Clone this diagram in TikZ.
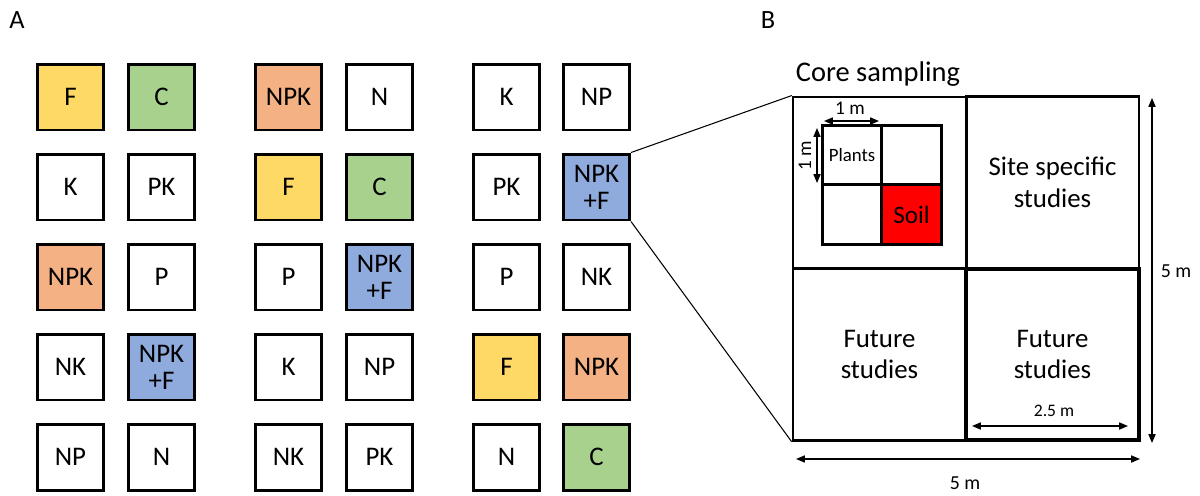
\documentclass[tikz,border=0pt]{standalone}
\usepackage{fontspec}
\setmainfont{Carlito}
\usetikzlibrary{arrows.meta, positioning}
\definecolor{fcolor}{RGB}{255, 217, 102}
\definecolor{ccolor}{RGB}{169, 209, 142}
\definecolor{npkcolor}{RGB}{244, 177, 131}
\definecolor{npkfcolor}{RGB}{143, 170, 220}
\definecolor{soilcolor}{RGB}{255, 0, 0}
\tikzset{
    plot/.style={draw, line width=1.7pt, minimum size=1.32cm, inner sep=0pt, align=center, font=\fontsize{15.3}{15.5}\selectfont},
    cell/.style={draw, line width=1.7pt, minimum width=3.46cm, minimum height=3.43cm, inner sep=0pt, align=center, font=\fontsize{15.3}{18}\selectfont},
    sub/.style={draw, line width=1.5pt, minimum size=1.19cm, inner sep=0pt},
    dim/.style={{Triangle[length=5pt, width=4pt]}-{Triangle[length=5pt, width=4pt]}, line width=0.8pt},
    dimlabel/.style={inner sep=0pt, font=\fontsize{10}{12}\selectfont},
    panel/.style={inner sep=0pt, font=\fontsize{15}{18}\selectfont}
}
\begin{document}
\begin{tikzpicture}[x=0.02cm, y=-0.02cm]
        \useasboundingbox (0, 0) rectangle (1200, 495);
        % Panel labels
        \node[panel] (labA) at (17, 20) {A};
        \node[panel] (labB) at (768, 20) {B};
        
        % Block 1
        \node[plot, fill=fcolor] (s11) at (70.5, 97) {F};
        \node[plot, fill=ccolor] (s21) at (161.5, 97) {C};
        \node[plot] (s12) at (70.5, 187) {K};
        \node[plot] (s22) at (161.5, 187) {PK};
        \node[plot, fill=npkcolor] (s13) at (70.5, 277) {NPK};
        \node[plot] (s23) at (161.5, 277) {P};
        \node[plot] (s14) at (70.5, 367) {NK};
        \node[plot, fill=npkfcolor] (s24) at (161.5, 367) {NPK\\+F};
        \node[plot] (s15) at (70.5, 457) {NP};
        \node[plot] (s25) at (161.5, 457) {N};
        
        % Block 2
        \node[plot, fill=npkcolor] (s31) at (288.5, 97) {NPK};
        \node[plot] (s41) at (379.5, 97) {N};
        \node[plot, fill=fcolor] (s32) at (288.5, 187) {F};
        \node[plot, fill=ccolor] (s42) at (379.5, 187) {C};
        \node[plot] (s33) at (288.5, 277) {P};
        \node[plot, fill=npkfcolor] (s43) at (379.5, 277) {NPK\\+F};
        \node[plot] (s34) at (288.5, 367) {K};
        \node[plot] (s44) at (379.5, 367) {NP};
        \node[plot] (s35) at (288.5, 457) {NK};
        \node[plot] (s45) at (379.5, 457) {PK};
        
        % Block 3
        \node[plot] (s51) at (506.5, 97) {K};
        \node[plot] (s61) at (596.5, 97) {NP};
        \node[plot] (s52) at (506.5, 187) {PK};
        \node[plot, fill=npkfcolor] (s62) at (596.5, 187) {NPK\\+F};
        \node[plot] (s53) at (506.5, 277) {P};
        \node[plot] (s63) at (596.5, 277) {NK};
        \node[plot, fill=fcolor] (s54) at (506.5, 367) {F};
        \node[plot, fill=npkcolor] (s64) at (596.5, 367) {NPK};
        \node[plot] (s55) at (506.5, 457) {N};
        \node[plot, fill=ccolor] (s65) at (596.5, 457) {C};
        
        % Plot layout
        \node[cell, line width=1.4pt] (tl) at (879.5, 182.5) {};
        \node[cell] (tr) at (1052.5, 182.5) {Site specific\\studies};
        \node[cell, line width=1.6pt] (bl) at (879.5, 354.5) {Future\\studies};
        \node[cell, line width=2pt] (br) at (1052.5, 354.5) {Future\\studies};
        \node[panel, font=\fontsize{16.2}{18}\selectfont] (core) at (878, 74) {Core sampling};
        
        % Sampling squares
        \node[sub, font=\fontsize{10.7}{12}\selectfont] (plants) at (852, 155) {Plants};
        \node[sub] (q2) at (911.5, 155) {};
        \node[sub] (q3) at (852, 214.5) {};
        \node[sub, fill=soilcolor, font=\fontsize{14.3}{16}\selectfont] (soil) at (911.5, 214.5) {Soil};
        
        % Zoom lines
        \draw[line width=0.6pt] (s62.north east) -- (tl.north west);
        \draw[line width=0.6pt] (s62.south east) -- (bl.south west);
        
        % Dimensions
        \coordinate (h1a) at (824, 121);
        \coordinate (h1b) at (879, 121);
        \draw[dim] (h1a) -- (h1b);
        \node[dimlabel, font=\fontsize{11}{12}\selectfont] (h1lab) at (850, 108) {1 m};
        \coordinate (v1a) at (817, 128);
        \coordinate (v1b) at (817, 183);
        \draw[dim] (v1a) -- (v1b);
        \node[dimlabel, font=\fontsize{11}{12}\selectfont, rotate=90] (v1lab) at (805, 156) {1 m};
        
        \coordinate (v5a) at (1152, 98);
        \coordinate (v5b) at (1152, 443);
        \draw[dim] (v5a) -- (v5b);
        \node[dimlabel, font=\fontsize{11.3}{12}\selectfont] (v5lab) at (1176, 271) {5 m};
        
        \coordinate (h5a) at (796, 459);
        \coordinate (h5b) at (1140, 459);
        \draw[dim] (h5a) -- (h5b);
        \node[dimlabel, font=\fontsize{11.3}{12}\selectfont] (h5lab) at (965, 483) {5 m};
        
        \coordinate (h25a) at (972, 426);
        \coordinate (h25b) at (1128, 426);
        \draw[dim] (h25a) -- (h25b);
        \node[dimlabel] (h25lab) at (1054, 411) {2.5 m};
        
    \end{tikzpicture}
\end{document}
